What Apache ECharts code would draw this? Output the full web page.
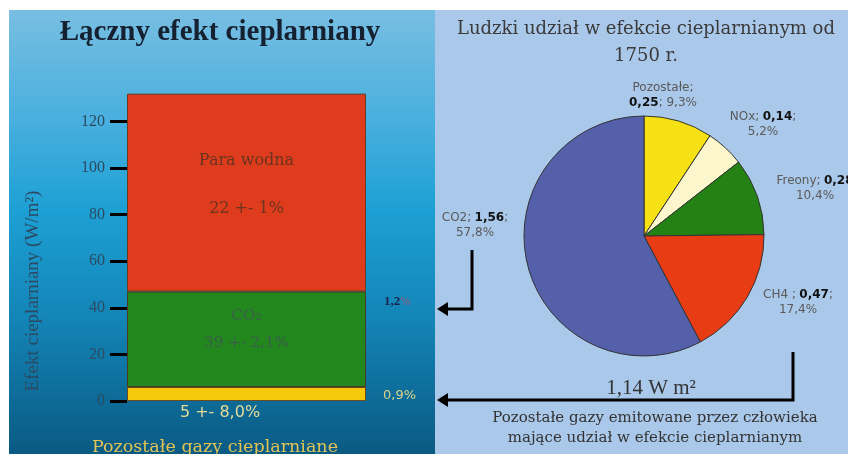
<!DOCTYPE html>
<html>
<head>
<meta charset="utf-8">
<script src="https://cdn.jsdelivr.net/npm/echarts@6/dist/echarts.min.js"></script>
<style>
html, body { margin: 0; padding: 0; background: #fff; }
#main { width: 848px; height: 454px; }
</style>
</head>
<body>
<div id="main"></div>
<script>
// lewy wykres - slupek skumulowany (W/m2)
var barCategory = ['Efekt cieplarniany'];
var yTicks = [0, 20, 40, 60, 80, 100, 120];
var pozostaleGazy = [6];
var dwutlenekWegla = [41];
var paraWodna = [85];

// prawy wykres - udzial czlowieka od 1750 r. (W/m2)
var pieNames = ['Pozostałe', 'NOx', 'Freony', 'CH4 ', 'CO2'];
var pieValues = [0.25, 0.14, 0.28, 0.47, 1.56];
var pieColors = ['#f6e214', '#fcf6cc', '#248214', '#e83c14', '#5560aa'];
var pieLabelPos = [[663, 95], [763, 124], [815, 188], [798, 302], [475, 225]];

var chart = echarts.init(document.getElementById('main'));

var leftBg = new echarts.graphic.LinearGradient(0, 0, 0, 1, [
    { offset: 0, color: '#78bee2' },
    { offset: 0.25, color: '#48afde' },
    { offset: 0.45, color: '#1da0d4' },
    { offset: 0.7, color: '#1384b6' },
    { offset: 1, color: '#0a5a82' }
]);

function pieLabel(p) {
    var v = p.value.toFixed(2).replace('.', ',');
    var pc = p.percent.toFixed(1).replace('.', ',') + '%';
    if (p.dataIndex === 0) {
        return '{n|' + p.name + ';}\n{b|' + v + '}{n|; ' + pc + '}';
    }
    if (p.dataIndex === 2) {
        return '{n|' + p.name + ';} {b|' + v + '}\n{n|' + pc + '}';
    }
    return '{n|' + p.name + ';} {b|' + v + '}{n|;}\n{n|' + pc + '}';
}

var option = {
    animation: false,
    grid: {
        left: 127,
        right: 482,
        top: 75,
        bottom: 53
    },
    xAxis: {
        type: 'category',
        data: barCategory,
        show: false
    },
    yAxis: {
        type: 'value',
        min: 0,
        max: 140,
        interval: 20,
        axisLine: { show: false },
        splitLine: { show: false },
        axisTick: {
            show: true,
            length: 17,
            customValues: yTicks,
            lineStyle: { color: '#000', width: 3 }
        },
        axisLabel: {
            customValues: yTicks,
            margin: 22,
            color: '#2b4a62',
            fontFamily: 'Liberation Serif',
            fontSize: 16
        }
    },
    series: [
        {
            name: 'Pozostałe gazy cieplarniane',
            type: 'bar',
            stack: 'efekt',
            barWidth: '100%',
            data: pozostaleGazy,
            itemStyle: { color: '#f6c80a', borderColor: '#6a4a20', borderWidth: 1 }
        },
        {
            name: 'CO₂',
            type: 'bar',
            stack: 'efekt',
            data: dwutlenekWegla,
            itemStyle: { color: '#22881e', borderColor: '#4a3a20', borderWidth: 1 },
            label: {
                show: true,
                position: 'inside',
                offset: [0, -10],
                formatter: 'CO₂\n39 +- 2,1%',
                color: '#3a5e4a',
                fontFamily: 'DejaVu Serif',
                fontSize: 15,
                lineHeight: 27
            }
        },
        {
            name: 'Para wodna',
            type: 'bar',
            stack: 'efekt',
            data: paraWodna,
            itemStyle: { color: '#de3c1c', borderColor: '#6a3a20', borderWidth: 1 },
            label: {
                show: true,
                position: 'inside',
                offset: [0, -8],
                formatter: 'Para wodna\n22 +- 1%',
                color: '#6a3420',
                fontFamily: 'DejaVu Serif',
                fontSize: 16,
                lineHeight: 48
            }
        },
        {
            name: 'Ludzki udział',
            type: 'pie',
            center: [644, 236],
            radius: 120,
            startAngle: 90,
            clockwise: true,
            data: pieNames.map(function (n, i) {
                return { name: n, value: pieValues[i], itemStyle: { color: pieColors[i] } };
            }),
            itemStyle: { borderColor: '#333', borderWidth: 1 },
            labelLine: { show: false },
            label: {
                show: true,
                position: 'outside',
                overflow: 'none',
                formatter: pieLabel,
                align: 'center',
                lineHeight: 15,
                rich: {
                    n: { fontFamily: 'DejaVu Sans', fontSize: 12, color: '#5a5a5a', lineHeight: 15 },
                    b: { fontFamily: 'DejaVu Sans', fontSize: 12, fontWeight: 'bold', color: '#111', lineHeight: 15 }
                }
            },
            labelLayout: function (params) {
                var pos = pieLabelPos[params.dataIndex];
                return { x: pos[0], y: pos[1], align: 'center', verticalAlign: 'middle' };
            }
        }
    ],
    graphic: [
        // tla paneli
        { type: 'rect', z: -10, shape: { x: 9, y: 10, width: 426, height: 444 }, style: { fill: leftBg } },
        { type: 'rect', z: -10, shape: { x: 435, y: 10, width: 413, height: 444 }, style: { fill: '#aac8ea' } },
        // tytuly
        {
            type: 'text', x: 220, y: 33, z: 10,
            style: { text: 'Łączny efekt cieplarniany', align: 'center', verticalAlign: 'middle',
                font: 'bold 29px "Liberation Serif"', fill: '#152030' }
        },
        {
            type: 'text', x: 646, y: 29, z: 10,
            style: { text: 'Ludzki udział w efekcie cieplarnianym od', align: 'center', verticalAlign: 'middle',
                font: '18px "DejaVu Serif"', fill: '#3a3a3a' }
        },
        {
            type: 'text', x: 646, y: 56, z: 10,
            style: { text: '1750 r.', align: 'center', verticalAlign: 'middle',
                font: '18px "DejaVu Serif"', fill: '#3a3a3a' }
        },
        // nazwa osi Y
        {
            type: 'text', x: 33, y: 291, rotation: Math.PI / 2, z: 10,
            style: { text: 'Efekt cieplarniany (W/m²)', align: 'center', verticalAlign: 'middle',
                font: '19px "Liberation Serif"', fill: '#2b4a62' }
        },
        // opisy przy slupku
        {
            type: 'text', x: 384, y: 302, z: 10,
            style: { text: '{a|1,2}{b|%}', verticalAlign: 'middle',
                rich: { a: { font: 'bold 13px "Liberation Serif"', fill: '#1a2450' },
                        b: { font: '12px "Liberation Serif"', fill: '#9a5a70' } } }
        },
        {
            type: 'text', x: 383, y: 396, z: 10,
            style: { text: '0,9%', verticalAlign: 'middle', font: '13px "DejaVu Sans"', fill: '#dcd48c' }
        },
        {
            type: 'text', x: 220, y: 413, z: 10,
            style: { text: '5 +- 8,0%', align: 'center', verticalAlign: 'middle',
                font: '16px "DejaVu Sans"', fill: '#e6dc98' }
        },
        {
            type: 'text', x: 92, y: 447, z: 10,
            style: { text: 'Pozostałe gazy cieplarniane', verticalAlign: 'middle',
                font: '17.5px "DejaVu Serif"', fill: '#e2c455' }
        },
        // strzalki
        {
            type: 'polyline', z: 10,
            shape: { points: [[472, 250], [472, 309], [446, 309]] },
            style: { stroke: '#000', lineWidth: 3, fill: null }
        },
        {
            type: 'polygon', z: 10,
            shape: { points: [[437, 309], [448, 302], [448, 316]] },
            style: { fill: '#000' }
        },
        {
            type: 'polyline', z: 10,
            shape: { points: [[793, 352], [793, 400], [446, 400]] },
            style: { stroke: '#000', lineWidth: 3, fill: null }
        },
        {
            type: 'polygon', z: 10,
            shape: { points: [[437, 400], [448, 393], [448, 407]] },
            style: { fill: '#000' }
        },
        // opisy pod kolem
        {
            type: 'text', x: 651, y: 388, z: 10,
            style: { text: '1,14 W m²', align: 'center', verticalAlign: 'middle',
                font: '21px "Liberation Serif"', fill: '#333' }
        },
        {
            type: 'text', x: 655, y: 418, z: 10,
            style: { text: 'Pozostałe gazy emitowane przez człowieka', align: 'center', verticalAlign: 'middle',
                font: '15px "DejaVu Serif"', fill: '#333' }
        },
        {
            type: 'text', x: 655, y: 438, z: 10,
            style: { text: 'mające udział w efekcie cieplarnianym', align: 'center', verticalAlign: 'middle',
                font: '15px "DejaVu Serif"', fill: '#333' }
        }
    ]
};

chart.setOption(option);
</script>
</body>
</html>
